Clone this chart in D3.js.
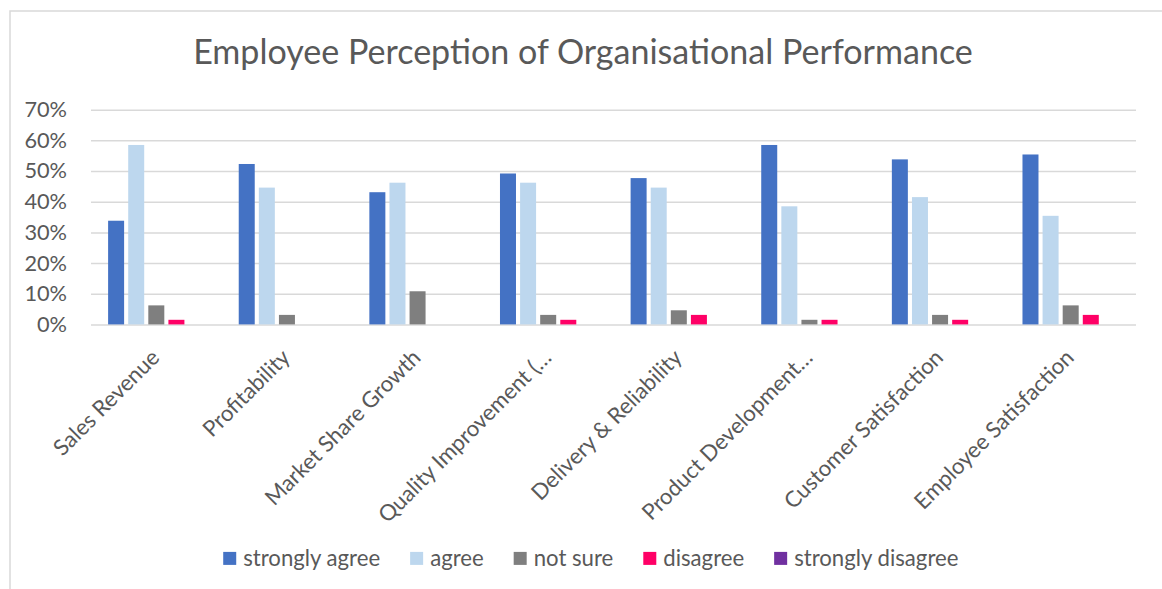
<!DOCTYPE html>
<html>
<head>
<meta charset="utf-8">
<script src="https://cdn.jsdelivr.net/npm/d3@7"></script>
<style>
  html, body { margin: 0; padding: 0; background: #fff; }
  svg { display: block; }
  text { font-family: Lato, "Open Sans", sans-serif; fill: #595959; }
</style>
</head>
<body>
<svg id="chart" width="1162" height="589"></svg>
<script>
const title = "Employee Perception of Organisational Performance";
const categories = [
  "Sales Revenue", "Profitability", "Market Share Growth", "Quality Improvement (…",
  "Delivery & Reliability", "Product Development…", "Customer Satisfaction", "Employee Satisfaction"
];
const seriesNames = ["strongly agree", "agree", "not sure", "disagree", "strongly disagree"];
const seriesColors = ["#4472C4", "#BDD7EE", "#7F7F7F", "#FF0066", "#7030A0"];
const stronglyAgree    = [0.338, 0.523, 0.431, 0.492, 0.477, 0.585, 0.538, 0.554];
const agree            = [0.585, 0.446, 0.462, 0.462, 0.446, 0.385, 0.415, 0.354];
const notSure          = [0.062, 0.031, 0.108, 0.031, 0.046, 0.015, 0.031, 0.062];
const disagree         = [0.015, 0.000, 0.000, 0.015, 0.031, 0.015, 0.015, 0.031];
const stronglyDisagree = [0.000, 0.000, 0.000, 0.000, 0.000, 0.000, 0.000, 0.000];
const yTicks = [0, 0.1, 0.2, 0.3, 0.4, 0.5, 0.6, 0.7];

const seriesValues = [stronglyAgree, agree, notSure, disagree, stronglyDisagree];

const svg = d3.select("#chart");
const plot = { left: 91, right: 1136, top: 109.7, bottom: 324.4 };

// chart frame
svg.append("rect").attr("x", 10).attr("y", 11).attr("width", 1170).attr("height", 600)
  .attr("fill", "#fff").attr("stroke", "#D9D9D9").attr("stroke-width", 1.5);

// helper to fit font size to a target width
function fitSize(str, targetWidth, weight) {
  const t = svg.append("text").attr("font-size", 100).attr("font-weight", weight || 400).text(str);
  const w = t.node().getComputedTextLength();
  t.remove();
  return 100 * targetWidth / w;
}
const baseSize = fitSize("strongly agree", 137, 400);
const titleSize = fitSize(title, 780, 400);

// title
svg.append("text").attr("x", 583).attr("y", 64)
  .attr("text-anchor", "middle").attr("font-size", titleSize).attr("font-weight", 400)
  .text(title);

// scales
const y = d3.scaleLinear().domain([0, 0.7]).range([plot.bottom, plot.top]);
const x0 = d3.scaleBand().domain(categories).range([plot.left, plot.right]).paddingInner(0).paddingOuter(0);
const x1 = d3.scaleBand().domain(seriesNames).range([0, x0.bandwidth()]).paddingInner(0.204).paddingOuter(0.851);
const color = d3.scaleOrdinal().domain(seriesNames).range(seriesColors);

// gridlines + y tick labels
const yAxis = d3.axisLeft(y).tickValues(yTicks).tickFormat(d3.format(".0%")).tickSize(-(plot.right - plot.left)).tickPadding(24);
const gy = svg.append("g").attr("transform", `translate(${plot.left},0)`).call(yAxis);
gy.select(".domain").remove();
gy.selectAll(".tick line").attr("stroke", "#D9D9D9").attr("stroke-width", 1.5);
gy.selectAll(".tick text").attr("font-size", baseSize * 0.98).attr("fill", "#595959")
  .attr("font-family", "Lato, 'Open Sans', sans-serif");

// bars
const groups = svg.append("g").selectAll("g").data(categories).join("g")
  .attr("transform", d => `translate(${x0(d)},0)`);
groups.selectAll("rect")
  .data((c, i) => seriesNames.map((s, j) => ({ s, v: seriesValues[j][i] })))
  .join("rect")
  .attr("x", d => x1(d.s))
  .attr("width", x1.bandwidth())
  .attr("y", d => y(d.v))
  .attr("height", d => y(0) - y(d.v))
  .attr("fill", d => color(d.s));

// x axis labels
const xAxis = d3.axisBottom(x0).tickSize(0).tickPadding(0);
const gx = svg.append("g").attr("transform", `translate(0,${plot.bottom})`).call(xAxis);
gx.select(".domain").remove();
gx.selectAll(".tick text")
  .attr("font-size", baseSize * 1.0)
  .attr("fill", "#595959")
  .attr("font-family", "Lato, 'Open Sans', sans-serif")
  .attr("text-anchor", "end")
  .attr("dy", "0.35em")
  .attr("y", 0)
  .attr("transform", "translate(-1,29) rotate(-45)");

// legend
const legend = svg.append("g");
const sq = 13, gapText = 7, gapItem = 30;
let cx = 0;
const items = [];
seriesNames.forEach(s => {
  const g = legend.append("g");
  g.append("rect").attr("x", 0).attr("y", -sq / 2).attr("width", sq).attr("height", sq).attr("fill", color(s));
  const t = g.append("text").attr("x", sq + gapText).attr("y", 0).attr("dy", "0.35em")
    .attr("font-size", baseSize).text(s);
  const w = sq + gapText + t.node().getComputedTextLength();
  items.push({ g, x: cx });
  cx += w + gapItem;
});
const totalW = cx - gapItem;
const startX = 590.8 - totalW / 2;
items.forEach(it => it.g.attr("transform", `translate(${startX + it.x},558.4)`));
</script>
</body>
</html>
